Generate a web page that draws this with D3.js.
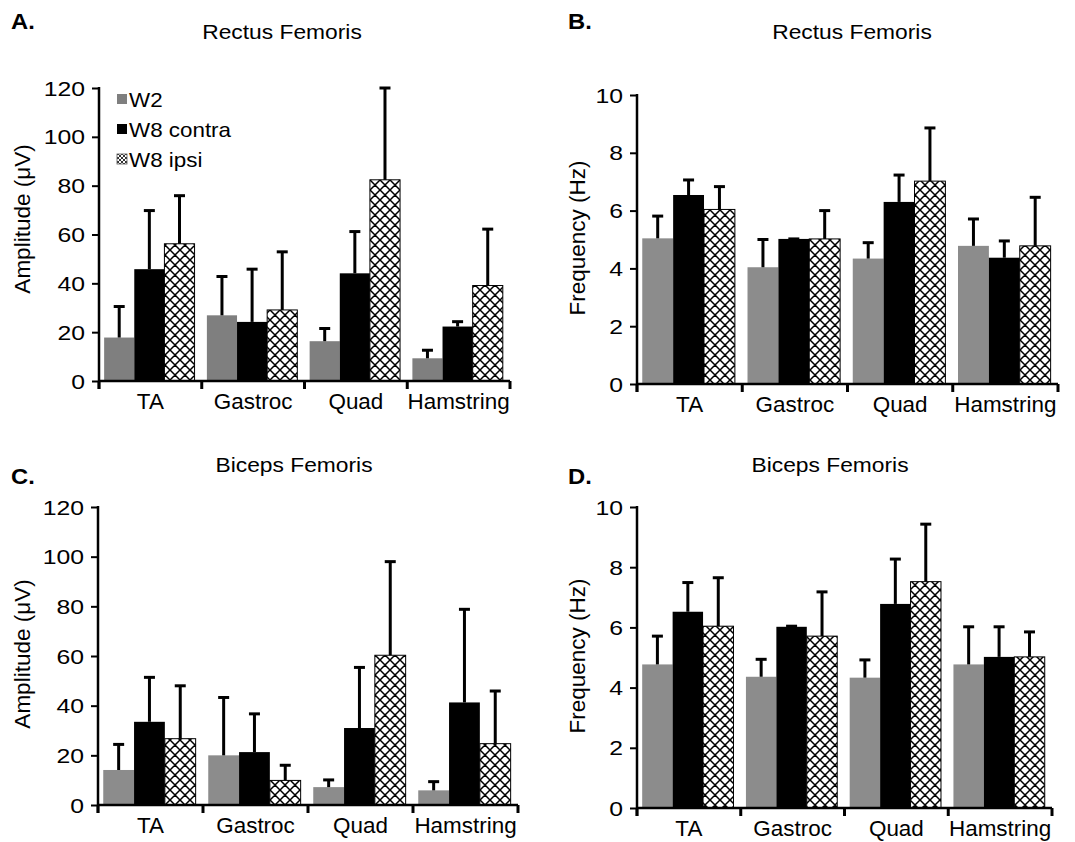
<!DOCTYPE html>
<html><head><meta charset="utf-8">
<script src="https://cdn.jsdelivr.net/npm/d3@7"></script>
<style>
html,body{margin:0;padding:0;background:#fff;}
svg text{font-family:"Liberation Sans",Arial,sans-serif;fill:#000;}
</style></head>
<body>
<svg id="chart" width="1075" height="842"></svg>
<script>
// ---------- data ----------
const categories = ["TA", "Gastroc", "Quad", "Hamstring"];
const seriesLabels = ["W2", "W8 contra", "W8 ipsi"];
const ampTicks = [0, 20, 40, 60, 80, 100, 120];
const freqTicks = [0, 2, 4, 6, 8, 10];

// A. Rectus Femoris amplitude (µV)
const rfAmpW2 = [17.8, 26.9, 16.3, 9.3];
const rfAmpW2Err = [12.7, 15.9, 5.2, 3.3];
const rfAmpW8c = [45.8, 24.2, 44.1, 22.3];
const rfAmpW8cErr = [24.0, 21.6, 17.1, 2.0];
const rfAmpW8i = [56.2, 29.1, 82.4, 39.1];
const rfAmpW8iErr = [19.7, 23.8, 37.6, 23.1];

// B. Rectus Femoris frequency (Hz)
const rfFreqW2 = [5.04, 4.04, 4.34, 4.78];
const rfFreqW2Err = [0.77, 0.96, 0.55, 0.93];
const rfFreqW8c = [6.54, 5.02, 6.30, 4.37];
const rfFreqW8cErr = [0.52, 0.0, 0.93, 0.58];
const rfFreqW8i = [6.04, 5.02, 7.02, 4.78];
const rfFreqW8iErr = [0.79, 0.98, 1.84, 1.68];

// C. Biceps Femoris amplitude (µV)
const bfAmpW2 = [14.1, 20.0, 7.2, 5.9];
const bfAmpW2Err = [10.3, 23.3, 2.9, 3.5];
const bfAmpW8c = [33.5, 21.3, 31.0, 41.3];
const bfAmpW8cErr = [17.9, 15.4, 24.4, 37.5];
const bfAmpW8i = [26.7, 9.9, 60.3, 24.7];
const bfAmpW8iErr = [21.3, 6.1, 37.7, 21.2];

// D. Biceps Femoris frequency (Hz)
const bfFreqW2 = [4.77, 4.36, 4.33, 4.77];
const bfFreqW2Err = [0.94, 0.58, 0.59, 1.25];
const bfFreqW8c = [6.52, 6.02, 6.78, 5.02];
const bfFreqW8cErr = [0.97, 0.02, 1.49, 1.00];
const bfFreqW8i = [6.04, 5.71, 7.52, 5.02];
const bfFreqW8iErr = [1.61, 1.47, 1.91, 0.83];

// ---------- layout ----------
const panels = [
  {letter: "A.", title: "Rectus Femoris", yLabel: "Amplitude (\u03bcV)", ticks: ampTicks,
   means: [rfAmpW2, rfAmpW8c, rfAmpW8i], errs: [rfAmpW2Err, rfAmpW8cErr, rfAmpW8iErr],
   box: {left: 99, right: 510, top: 88, bottom: 381}, gray: "#7f7f7f", legend: true,
   letterPos: [11, 29], titlePos: [282, 39], yLabelPos: [22, 219]},
  {letter: "B.", title: "Rectus Femoris", yLabel: "Frequency (Hz)", ticks: freqTicks,
   means: [rfFreqW2, rfFreqW8c, rfFreqW8i], errs: [rfFreqW2Err, rfFreqW8cErr, rfFreqW8iErr],
   box: {left: 637, right: 1058, top: 95, bottom: 384}, gray: "#8c8c8c", legend: false,
   letterPos: [568, 29], titlePos: [852, 39], yLabelPos: [577, 238]},
  {letter: "C.", title: "Biceps Femoris", yLabel: "Amplitude (\u03bcV)", ticks: ampTicks,
   means: [bfAmpW2, bfAmpW8c, bfAmpW8i], errs: [bfAmpW2Err, bfAmpW8cErr, bfAmpW8iErr],
   box: {left: 98, right: 518, top: 507, bottom: 805}, gray: "#8c8c8c", legend: false,
   letterPos: [11, 484], titlePos: [294, 472], yLabelPos: [22, 654]},
  {letter: "D.", title: "Biceps Femoris", yLabel: "Frequency (Hz)", ticks: freqTicks,
   means: [bfFreqW2, bfFreqW8c, bfFreqW8i], errs: [bfFreqW2Err, bfFreqW8cErr, bfFreqW8iErr],
   box: {left: 637, right: 1052, top: 507, bottom: 808}, gray: "#8c8c8c", legend: false,
   letterPos: [568, 484], titlePos: [830, 472], yLabelPos: [577, 656]}
];

const svg = d3.select("#chart");
const defs = svg.append("defs");
function hatch(id, size, sw) {
  const p = defs.append("pattern").attr("id", id).attr("patternUnits", "userSpaceOnUse")
    .attr("width", size).attr("height", size);
  p.append("rect").attr("width", size).attr("height", size).attr("fill", "#fff");
  const s = size;
  p.append("path")
    .attr("d", `M${-s/2},${s/2} L${s/2},${1.5*s} M0,0 L${s},${s} M${s/2},${-s/2} L${1.5*s},${s/2}` +
               ` M${-s/2},${s/2} L${s/2},${-s/2} M0,${s} L${s},0 M${s/2},${1.5*s} L${1.5*s},${s/2}`)
    .attr("stroke", "#000").attr("stroke-width", sw).attr("fill", "none");
}
hatch("xhatch", 10, 1.5);
hatch("xhatchSmall", 4, 0.8);

function sText(g, txt, x, y, size, anchor, sx, weight) {
  return g.append("text").attr("transform", `translate(${x},${y}) scale(${sx},1)`)
    .attr("text-anchor", anchor).attr("font-size", size).attr("font-weight", weight || "normal")
    .text(txt);
}

panels.forEach(P => {
  const g = svg.append("g");
  const b = P.box;
  const yMax = P.ticks[P.ticks.length - 1];
  const y = d3.scaleLinear().domain([0, yMax]).range([b.bottom, b.top]);
  const x0 = d3.scaleBand().domain(categories).range([b.left, b.right]).paddingInner(0).paddingOuter(0);
  const bw = x0.bandwidth();
  const x1 = d3.scaleBand().domain(d3.range(3)).range([bw * 0.05, bw * 0.93]).padding(0);
  const fills = [P.gray, "#000", "url(#xhatch)"];

  // bars
  P.means.forEach((arr, si) => {
    g.append("g").selectAll("rect").data(arr).join("rect")
      .attr("x", (d, i) => x0(categories[i]) + x1(si))
      .attr("width", x1.bandwidth())
      .attr("y", d => y(d))
      .attr("height", d => y(0) - y(d))
      .attr("fill", fills[si])
      .attr("stroke", si === 2 ? "#000" : "none")
      .attr("stroke-width", si === 2 ? 1 : 0);
  });
  // error bars (upper only)
  P.means.forEach((arr, si) => {
    const eg = g.append("g").attr("stroke", "#000").attr("stroke-width", 3);
    arr.forEach((m, i) => {
      const e = P.errs[si][i];
      const cx = x0(categories[i]) + x1(si) + x1.bandwidth() / 2;
      eg.append("line").attr("x1", cx).attr("x2", cx).attr("y1", y(m)).attr("y2", y(m + e));
      eg.append("line").attr("x1", cx - 5.5).attr("x2", cx + 5.5).attr("y1", y(m + e)).attr("y2", y(m + e));
    });
  });

  // y axis (ticks via d3 axis, labels drawn with horizontal stretch)
  const yAxis = d3.axisLeft(y).tickValues(P.ticks).tickSize(7).tickFormat("");
  const ya = g.append("g").attr("transform", `translate(${b.left},0)`).call(yAxis);
  ya.select(".domain").remove();
  ya.selectAll(".tick line").attr("stroke", "#000").attr("stroke-width", 2);
  P.ticks.forEach(t => sText(g, String(t), b.left - 14, y(t) + 7.5, 21, "end", 1.18));
  g.append("line").attr("x1", b.left).attr("x2", b.left).attr("y1", b.top - 1).attr("y2", b.bottom + 8)
    .attr("stroke", "#000").attr("stroke-width", 2.5);

  // x axis
  g.append("line").attr("x1", b.left).attr("x2", b.right).attr("y1", y(0)).attr("y2", y(0))
    .attr("stroke", "#000").attr("stroke-width", 2.5);
  const bounds = categories.map(c => x0(c)).concat([b.right]);
  g.append("g").selectAll("line").data(bounds).join("line")
    .attr("x1", d => d).attr("x2", d => d).attr("y1", y(0)).attr("y2", y(0) + 8)
    .attr("stroke", "#000").attr("stroke-width", 3);
  categories.forEach(c => {
    sText(g, c, x0(c) + bw / 2, y(0) + 28, 22, "middle", 1.02);
  });

  // y label
  g.append("text").attr("transform", `translate(${P.yLabelPos[0] + 8},${P.yLabelPos[1]}) rotate(-90)`)
    .attr("text-anchor", "middle").attr("font-size", 22.5).text(P.yLabel);

  // title & letter
  sText(g, P.title, P.titlePos[0], P.titlePos[1], 20, "middle", 1.14);
  sText(g, P.letter, P.letterPos[0], P.letterPos[1], 22, "start", 1.08, "bold");

  // legend
  if (P.legend) {
    const lf = [P.gray, "#000", "url(#xhatchSmall)"];
    seriesLabels.forEach((s, i) => {
      const ly = 107 + i * 30;
      g.append("rect").attr("x", 117).attr("y", ly - 13).attr("width", 10).attr("height", 10)
        .attr("fill", lf[i]).attr("stroke", i === 2 ? "#555" : "none").attr("stroke-width", 0.8);
      sText(g, s, 129, ly, 20, "start", 1.12);
    });
  }
});
</script>
</body></html>
